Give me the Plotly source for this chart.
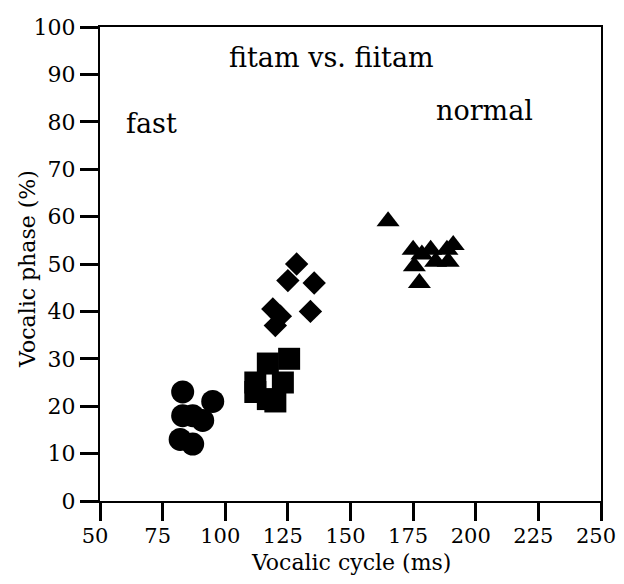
import plotly.graph_objects as go

# Vocalic cycle (ms) and vocalic phase (%) per condition group
circle_x = [83, 95, 83, 91, 87, 82, 87]
circle_y = [23, 21, 18, 17, 18, 13, 12]

square_x = [112, 112, 117, 125.5, 123, 117, 120]
square_y = [25, 23, 29, 30, 25, 21.5, 21]

diamond_x = [119, 122, 120, 134, 125, 128.5, 135.5]
diamond_y = [40.5, 39, 37, 40, 46.5, 50, 46]

triangle_x = [165, 175, 175.5, 178.5, 177.5, 182, 184, 188.5, 189, 191]
triangle_y = [59, 53, 49.5, 52, 46, 53, 50.5, 53, 50.5, 54]

x_ticks = [50, 75, 100, 125, 150, 175, 200, 225, 250]
y_ticks = [0, 10, 20, 30, 40, 50, 60, 70, 80, 90, 100]

FONT = "DejaVu Serif"

fig = go.Figure()
groups = [
    (circle_x, circle_y, "circle", 23),
    (square_x, square_y, "square", 22),
    (diamond_x, diamond_y, "diamond", 18),
    (triangle_x, triangle_y, "triangle-up", 20),
]
for xs, ys, sym, sz in groups:
    fig.add_trace(go.Scatter(
        x=xs, y=ys, mode="markers",
        marker=dict(symbol=sym, size=sz, color="black", line=dict(width=0)),
        showlegend=False, hoverinfo="x+y",
    ))

axis_common = dict(
    showgrid=False, zeroline=False, showline=True, linecolor="black",
    linewidth=2, mirror=True, ticks="outside", ticklen=18, tickwidth=2.5,
    tickcolor="black",
)
fig.update_xaxes(range=[50, 250], tickvals=x_ticks, ticklabeloverflow="allow",
                 tickfont=dict(family=FONT, size=21, color="black"),
                 ticklabelshift=-5, ticklabelstandoff=-3, **axis_common)
fig.update_yaxes(range=[0, 100], tickvals=y_ticks,
                 tickfont=dict(family=FONT, size=22, color="black"),
                 **axis_common)

ann_font = dict(family=FONT, size=27, color="black")
fig.add_annotation(x=142.5, y=93.5, text="fitam vs. fiitam", showarrow=False,
                   font=ann_font, xanchor="center", yanchor="middle")
fig.add_annotation(x=70.5, y=79.7, text="fast", showarrow=False,
                   font=ann_font, xanchor="center", yanchor="middle")
fig.add_annotation(x=203.6, y=82.3, text="normal", showarrow=False,
                   font=ann_font, xanchor="center", yanchor="middle")

title_font = dict(family=FONT, size=22, color="black")
fig.add_annotation(xref="paper", yref="paper", x=0.5, y=-0.1287,
                   text="Vocalic cycle (ms)", showarrow=False, font=title_font,
                   xanchor="center", yanchor="middle")
fig.add_annotation(xref="paper", yref="paper", x=-0.1434, y=0.49,
                   text="Vocalic phase (%)", showarrow=False, font=title_font,
                   textangle=-90, xanchor="center", yanchor="middle")

fig.update_layout(
    width=616, height=568,
    margin=dict(l=91.5, r=22.5, t=19, b=75, autoexpand=False),
    paper_bgcolor="white", plot_bgcolor="white",
)
fig.write_html("out.html")
